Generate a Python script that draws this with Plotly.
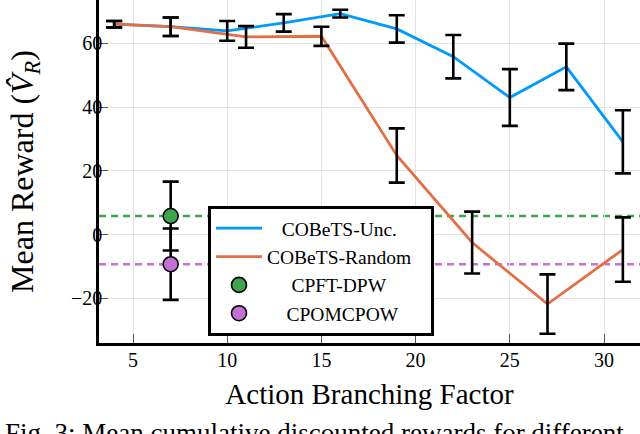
import plotly.graph_objects as go

# ---- data ----
unc_x = [4, 7, 10, 13, 16, 19, 22, 25, 28, 31]
unc_y = [66.0, 65.2, 63.9, 66.4, 69.3, 64.5, 55.8, 43.0, 52.6, 29.1]
unc_err = [1.0, 2.9, 3.1, 2.75, 1.2, 4.3, 6.8, 8.9, 7.3, 9.9]

rnd_x = [4, 7, 11, 15, 19, 23, 27, 31]
rnd_y = [66.0, 65.2, 62.0, 62.2, 24.8, -2.5, -21.8, -4.7]
rnd_err = [1.0, 2.9, 3.4, 3.0, 8.5, 9.7, 9.3, 10.1]

pft_x = [7]
pft_y = [5.8]
pft_err = [10.8]

pom_x = [7]
pom_y = [-9.3]
pom_err = [11.2]

names = ["COBeTS-Unc.", "COBeTS-Random", "CPFT-DPW", "CPOMCPOW"]
pad_l = [3, 0, 5, 4]
pad_r = [0, 3, 0, 0]
nb = "\u00a0"
disp = [nb * a + n + nb * b for a, n, b in zip(pad_l, names, pad_r)]

x_ticks = [5, 10, 15, 20, 25, 30]
y_ticks = [-20, 0, 20, 40, 60]

BLUE = "#009AFA"
ORANGE = "#E26F46"
GREEN = "#3EA44E"
PURPLE = "#C371D2"
FONT = "Liberation Serif"

fig = go.Figure()

# reference dashed lines
fig.add_hline(y=pft_y[0], line=dict(color=GREEN, width=2.5, dash="7px,5px"), layer="below")
fig.add_hline(y=pom_y[0], line=dict(color=PURPLE, width=2.5, dash="7px,5px"), layer="below")

fig.add_trace(go.Scatter(x=unc_x, y=unc_y, mode="lines", name=disp[0],
                         line=dict(color=BLUE, width=2.8)))
fig.add_trace(go.Scatter(x=rnd_x, y=rnd_y, mode="lines", name=disp[1],
                         line=dict(color=ORANGE, width=2.8)))

eb = dict(type="data", color="black", thickness=2.6, width=8)
fig.add_trace(go.Scatter(x=unc_x, y=unc_y, mode="markers", showlegend=False,
                         marker=dict(size=1, color="rgba(0,0,0,0)"),
                         error_y=dict(array=unc_err, **eb), hoverinfo="skip"))
fig.add_trace(go.Scatter(x=rnd_x, y=rnd_y, mode="markers", showlegend=False,
                         marker=dict(size=1, color="rgba(0,0,0,0)"),
                         error_y=dict(array=rnd_err, **eb), hoverinfo="skip"))

fig.add_trace(go.Scatter(x=pft_x, y=pft_y, mode="markers", name=disp[2],
                         marker=dict(size=15, color=GREEN, line=dict(color="black", width=1.6)),
                         error_y=dict(array=pft_err, **eb)))
fig.add_trace(go.Scatter(x=pom_x, y=pom_y, mode="markers", name=disp[3],
                         marker=dict(size=15, color=PURPLE, line=dict(color="black", width=1.6)),
                         error_y=dict(array=pom_err, **eb)))

axis_common = dict(
    showgrid=True, gridcolor="#e4e4e4", gridwidth=1,
    showline=True, linecolor="black", linewidth=2.6, mirror=False,
    ticks="inside", ticklen=9, tickwidth=1.3, tickcolor="#555555",
    tickfont=dict(family=FONT, size=20, color="black"),
    zeroline=False,
)

fig.update_xaxes(range=[3.195, 31.91], tickvals=x_ticks, ticklabelstandoff=-3,
                 title=dict(text="Action Branching Factor",
                            font=dict(family=FONT, size=29, color="black"), standoff=14),
                 **axis_common)
fig.update_yaxes(range=[-34.02, 73.58], tickvals=y_ticks, ticklabelstandoff=-10,
                 title=dict(text="Mean Reward (<i>V\u0302</i><sub><i>R</i></sub>)",
                            font=dict(family=FONT, size=32, color="black"), standoff=28),
                 **axis_common)

fig.add_annotation(text="Fig. 3: Mean cumulative discounted rewards for different",
                   xref="paper", yref="paper", x=-0.1775, y=-0.212,
                   xanchor="left", yanchor="top", showarrow=False,
                   font=dict(family=FONT, size=27, color="black"))

fig.update_layout(
    width=640, height=434,
    margin=dict(l=99, r=0, t=0, b=91),
    paper_bgcolor="white", plot_bgcolor="white",
    showlegend=True,
    legend=dict(x=0.2015, y=0.3994, xanchor="left", yanchor="top",
                bgcolor="white", bordercolor="black", borderwidth=3,
                font=dict(family=FONT, size=19.5, color="black"),
                itemwidth=46, tracegroupgap=0),
)

fig.write_html("out.html", config={"displayModeBar": False},
               post_script="document.body.style.margin='0';")
